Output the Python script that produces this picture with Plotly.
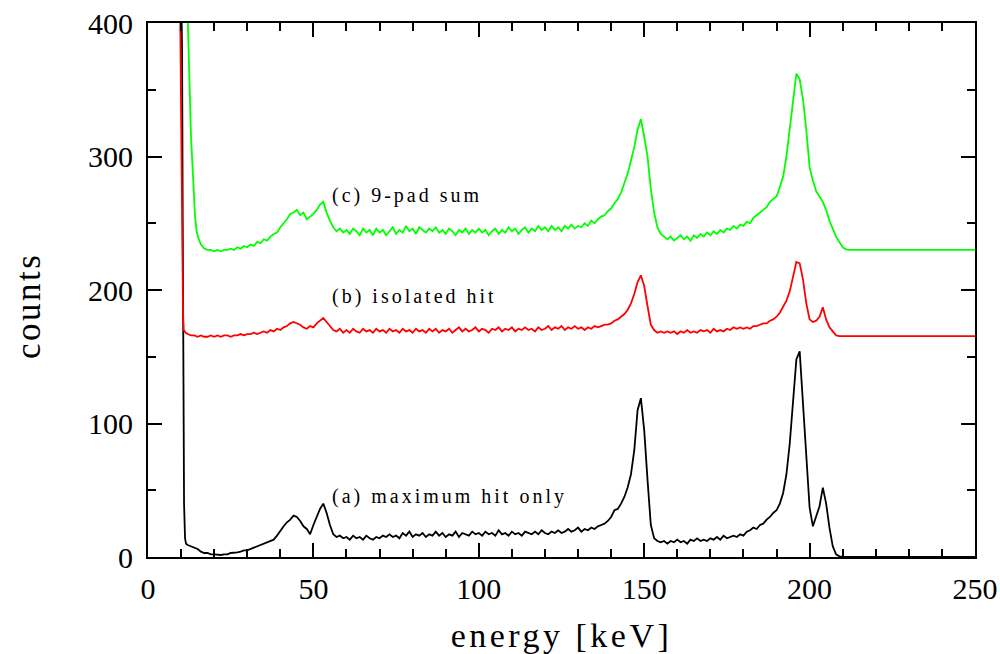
import plotly.graph_objects as go

# ---------------- data ----------------
# common energy grid of the body of the spectra (1 keV bins), keV
body_energy = list(range(16, 213))
tail_energy = [250]

# (a) maximum hit only  (black)
black_head_x = [10.0, 10.3, 10.5, 10.7, 10.9, 11.2, 11.5, 12, 13, 14, 15]
black_head_y = [430, 380, 250, 120, 40, 14, 10, 9, 8, 7, 6]
black_body = [
    4, 3, 3, 2, 2, 1.5, 1.5, 2, 2, 3,
    3, 3.5, 4, 5, 5, 6, 7, 7.5, 9, 10,
    11, 12, 13, 16, 20, 23, 26, 28, 31, 30,
    27, 23, 21, 17, 24, 30, 36, 40, 33, 24,
    17, 15, 16, 14, 15, 13, 16, 14, 15, 13,
    16, 14, 13, 15, 14, 16, 15, 17, 15, 16,
    14, 18, 16, 19, 15, 17, 16, 18, 15, 17,
    16, 19, 16, 18, 15, 17, 16, 19, 15, 18,
    17, 16, 19, 17, 18, 16, 19, 17, 18, 16,
    20, 17, 18, 16, 19, 17, 18, 16, 19, 18,
    17, 19, 17, 20, 18, 17, 19, 18, 20, 18,
    19, 21, 19, 20, 22, 19, 21, 20, 22, 21,
    23, 24, 25, 27, 30, 35, 36, 40, 45, 52,
    62, 80, 110, 119, 95, 58, 24, 14, 12, 11,
    12, 10, 12, 11, 13, 11, 12, 10, 13, 12,
    14, 12, 13, 12, 14, 13, 15, 13, 16, 14,
    15, 16, 15, 17, 16, 19, 20, 22, 21, 24,
    25, 28, 30, 33, 35, 40, 48, 62, 85, 118,
    148, 154, 112, 72, 37, 23, 30, 38, 52, 40,
    22, 8, 2, 0.5, 0, 0, 0,
]
black_tail = [0]

# (b) isolated hit  (red)
red_head_x = [9.6, 9.8, 10.0, 10.3, 10.6, 10.8, 11.4, 12, 13, 14, 15]
red_head_y = [440, 390, 300, 220, 180, 170, 168, 167, 166, 166, 165]
red_body = [
    166, 165, 165, 166, 165, 166, 165, 166, 166, 165,
    166, 166, 167, 166, 167, 167, 168, 167, 168, 169,
    168, 170, 169, 171, 170, 172, 173, 175, 176, 175,
    174, 172, 171, 173, 172, 175, 177, 179, 176, 173,
    170, 169, 171, 168, 170, 168, 171, 169, 168, 171,
    169, 170, 168, 171, 169, 170, 168, 171, 169, 170,
    168, 171, 169, 170, 168, 171, 169, 170, 168, 171,
    169, 171, 168, 170, 169, 171, 168, 170, 172, 169,
    171, 169, 170, 172, 169, 171, 170, 168, 171, 170,
    172, 169, 171, 170, 172, 169, 171, 170, 172, 170,
    171, 169, 172, 170, 171, 173, 170, 172, 171, 173,
    170, 172, 171, 173, 171, 172, 170, 172, 171, 173,
    172, 173, 174, 174, 175, 177, 178, 180, 182, 185,
    190, 197, 206, 211, 203, 188, 174, 170, 168, 169,
    168, 169, 168, 169, 167, 169, 168, 170, 168, 169,
    168, 170, 169, 170, 168, 171, 169, 170, 169, 171,
    170, 172, 171, 172, 171, 172, 171, 173, 173, 174,
    175, 175, 177, 178, 180, 183, 187, 192, 199, 210,
    221, 220, 208, 190, 178, 176, 177, 180, 187, 178,
    172, 169, 166, 165.5, 165.5, 165.5, 165.5,
]
red_tail = [165.5]

# (c) 9-pad sum  (green)
green_head_x = [11.6, 12.0, 12.5, 13.0, 13.7, 14.2, 14.7, 15.2]
green_head_y = [440, 400, 344, 315, 281, 256, 244, 239]
green_body = [
    234, 231, 230, 230, 229, 230, 229, 230, 230, 231,
    230, 232, 231, 233, 232, 234, 233, 236, 235, 238,
    237, 240, 242, 243, 247, 250, 253, 257, 258, 260,
    256, 258, 253, 255, 257, 260, 264, 266, 258, 252,
    247, 244, 246, 243, 245, 242, 246, 244, 241, 246,
    243, 245, 241, 246, 243, 245, 241, 244, 247, 242,
    245, 243, 248, 244, 246, 242, 247, 245, 243, 246,
    244, 247, 243, 245, 242, 246, 244, 241, 245, 243,
    246, 242, 245, 243, 246, 243, 245, 241, 244, 246,
    242, 245, 243, 247, 244, 246, 242, 245, 247, 243,
    246, 244, 248, 245, 247, 244, 248, 245, 247, 244,
    248, 246, 249, 246, 248, 247, 250, 248, 252, 250,
    253, 255, 256, 259, 261, 265, 268, 273, 280, 287,
    297, 307, 320, 328, 315, 300, 276, 258, 247, 242,
    240, 238, 240, 237, 239, 241, 238, 240, 237, 241,
    239, 242, 240, 243, 241, 244, 242, 245, 243, 246,
    245, 248, 246, 249, 248, 251, 250, 254, 256, 258,
    260, 262, 266, 268, 270, 277, 285, 300, 320, 340,
    362, 358, 343, 320, 292, 282, 274, 270, 266, 260,
    252, 246, 240, 236, 232, 230.5, 230,
]
green_tail = [230]

labels = ["(a) maximum hit only", "(b) isolated hit", "(c) 9-pad sum"]
label_x = [55, 55, 55]
label_y = [45, 195.5, 271]

x_ticks = [0, 50, 100, 150, 200, 250]
y_ticks = [0, 100, 200, 300, 400]

# ---------------- figure ----------------
SERIF = "Liberation Serif"

def spaced(txt, px):
    return f'<span style="letter-spacing:{px}px">{txt}</span>'

def series(head_x, head_y, body, tail):
    return head_x + body_energy + tail_energy, head_y + body + tail

fig = go.Figure()
for (hx, hy, b, t), color, name in [
    ((black_head_x, black_head_y, black_body, black_tail), "#000000", labels[0]),
    ((red_head_x, red_head_y, red_body, red_tail), "#ff0000", labels[1]),
    ((green_head_x, green_head_y, green_body, green_tail), "#00ff00", labels[2]),
]:
    xs, ys = series(hx, hy, b, t)
    fig.add_trace(go.Scatter(x=xs, y=ys, mode="lines", name=name,
                             line=dict(color=color, width=1.8), showlegend=False))

for txt, lx, ly in zip(labels, label_x, label_y):
    fig.add_annotation(x=lx, y=ly, text=spaced(txt, 3), showarrow=False, xanchor="left",
                       yanchor="middle", font=dict(family=SERIF, size=20, color="black"))

# y-axis title (placed as in the reference, a bit below the axis centre)
fig.add_annotation(xref="paper", yref="y", x=-0.145, y=188, text=spaced("counts", 2.5),
                   textangle=-90, showarrow=False, xanchor="center", yanchor="middle",
                   font=dict(family=SERIF, size=35, color="black"))

axis_common = dict(
    showgrid=False, zeroline=False, showline=True, linecolor="black", linewidth=2,
    mirror="ticks", ticks="inside", ticklen=14, tickwidth=1.6, tickcolor="black",
    tickfont=dict(family=SERIF, size=30, color="black"), automargin=False,
    ticklabeloverflow="allow",
)

fig.update_layout(
    width=1000, height=654,
    margin=dict(l=148, r=25, t=23, b=97),
    paper_bgcolor="white", plot_bgcolor="white",
    xaxis=dict(range=[0, 250], tickvals=x_ticks, ticklabelstandoff=4,
               minor=dict(dtick=10, ticks="inside", ticklen=8, tickwidth=1.6, tickcolor="black", showgrid=False),
               title=dict(text=spaced("energy [keV]", 3.5), font=dict(family=SERIF, size=34, color="black"), standoff=20),
               **axis_common),
    yaxis=dict(range=[0, 400], tickvals=y_ticks, ticklabelstandoff=7,
               minor=dict(dtick=50, ticks="inside", ticklen=8, tickwidth=1.6, tickcolor="black", showgrid=False),
               **axis_common),
)

# remove the browser's default page margin so the figure fills the window exactly
fig.write_html("out.html",
               config={"displayModeBar": False},
               post_script="document.body.style.margin='0';document.body.style.overflow='hidden';")
